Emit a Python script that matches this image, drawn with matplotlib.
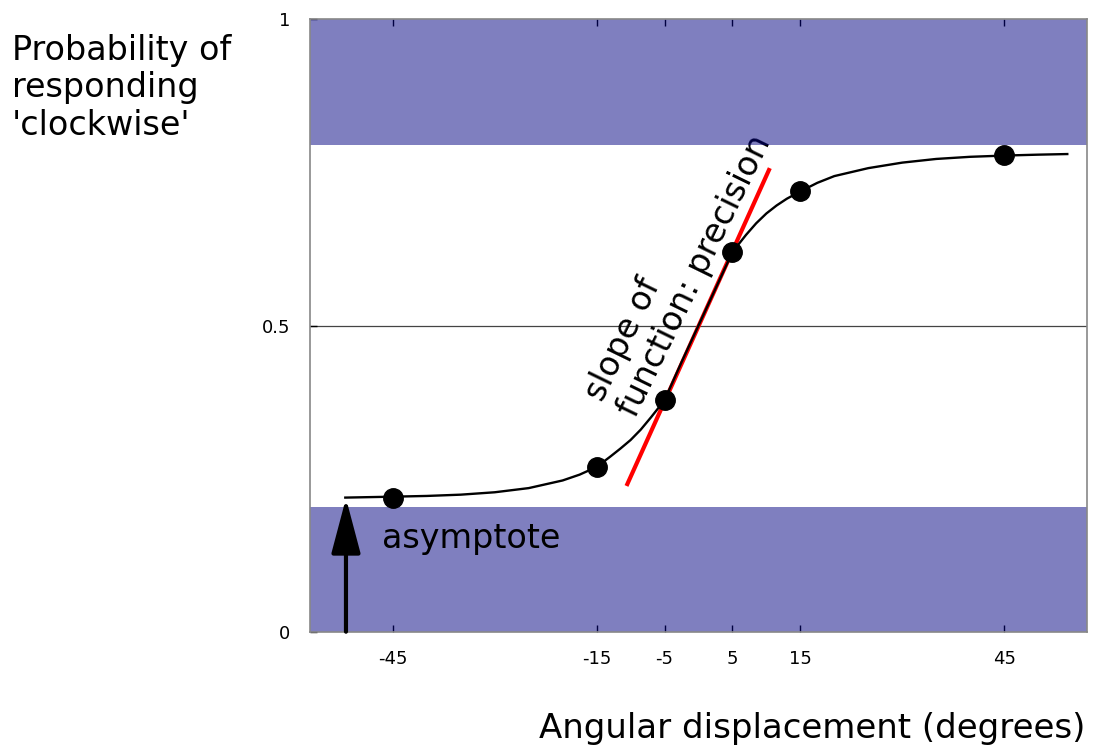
import matplotlib
matplotlib.use('Agg')
import matplotlib.pyplot as plt

# observed responses (degrees, proportion 'clockwise')
angles = [-45, -15, -5, 5, 15, 45]
p_clockwise = [0.219, 0.269, 0.378, 0.62, 0.719, 0.778]

# fitted psychometric curve
curve_x = [-52, -45, -40, -35, -30, -25, -20, -17.5, -15, -13, -11.5, -10, -8.5,
           -7, -6, -5, -2.5, 0, 2.5, 5, 6, 7, 8.5, 10, 11.5, 13, 15, 17.5, 20,
           25, 30, 35, 40, 45, 50, 54.3]
curve_y = [0.219, 0.2205, 0.2217, 0.2238, 0.2277, 0.2345, 0.247, 0.2565, 0.269,
           0.2858, 0.299, 0.313, 0.330, 0.350, 0.364, 0.378, 0.44, 0.5, 0.56,
           0.62, 0.634, 0.648, 0.667, 0.683, 0.696, 0.707, 0.719, 0.733, 0.744,
           0.757, 0.766, 0.772, 0.7755, 0.7775, 0.779, 0.780]

# tangent at the midpoint (slope = precision)
slope_x = [-10.6, 10.5]
slope_y = [0.238, 0.757]

# shaded regions outside the asymptotes
lower_band = (0, 0.204)
upper_band = (0.794, 1)
asymptote_x = -51.9
asymptote_top = 0.218

xticks = [-45, -15, -5, 5, 15, 45]
yticks = [0, 0.5, 1]
ytick_labels = ['0', '0.5', '1']

fig = plt.figure(figsize=(10.93, 7.46), dpi=100)
ax = fig.add_axes([0.2836, 0.1532, 0.9945 - 0.2836, 0.9741 - 0.1532])

band_col = (0, 0, 0.5, 0.5)
ax.axhspan(*lower_band, color=band_col, lw=0, zorder=2)
ax.axhspan(*upper_band, color=band_col, lw=0, zorder=2)

ax.axhline(0.5, color='#444444', lw=0.9, zorder=1.2)

ax.plot(slope_x, slope_y, color='red', lw=3, solid_capstyle='butt', zorder=3)
ax.plot(curve_x, curve_y, color='black', lw=1.7, zorder=3.5)
ax.plot(angles, p_clockwise, 'o', color='black', ms=14, zorder=4)

# baseline anchor is the start of the last line
ax.text(-9.8, 0.350, 'slope of\nfunction: precision', rotation=64,
        rotation_mode='anchor', ha='left', va='baseline', multialignment='left',
        fontsize=24, linespacing=1.15, zorder=1.5)

ax.annotate('', xy=(asymptote_x, asymptote_top), xytext=(asymptote_x, 0),
            arrowprops=dict(arrowstyle='-|>,head_length=1.7,head_width=0.45',
                            mutation_scale=20, lw=3, color='black',
                            shrinkA=0, shrinkB=0),
            zorder=5, annotation_clip=False)
ax.text(-46.6, 0.137, 'asymptote', fontsize=24, ha='left', va='baseline', zorder=5)

ax.set_xlim(-57.2, 57.2)
ax.set_ylim(0, 1)
ax.set_xticks(xticks)
ax.set_xticklabels([str(t) for t in xticks])
ax.set_yticks(yticks)
ax.set_yticklabels(ytick_labels)
ax.tick_params(axis='x', direction='in', top=True, bottom=True, length=5,
               width=1, pad=13, labelsize=13)
ax.tick_params(axis='y', direction='in', left=True, right=False, length=5,
               width=1, pad=14, labelsize=13)
for s in ax.spines.values():
    s.set_color('#888888')
    s.set_linewidth(1.2)

fig.text(12 / 1093, 1 - 135 / 746, "Probability of\nresponding\n'clockwise'",
         fontsize=24, ha='left', va='baseline', linespacing=1.18)
fig.text(1085 / 1093, 1 - 738 / 746, 'Angular displacement (degrees)',
         fontsize=24.5, ha='right', va='baseline')

fig.savefig('out.png', dpi=100)
